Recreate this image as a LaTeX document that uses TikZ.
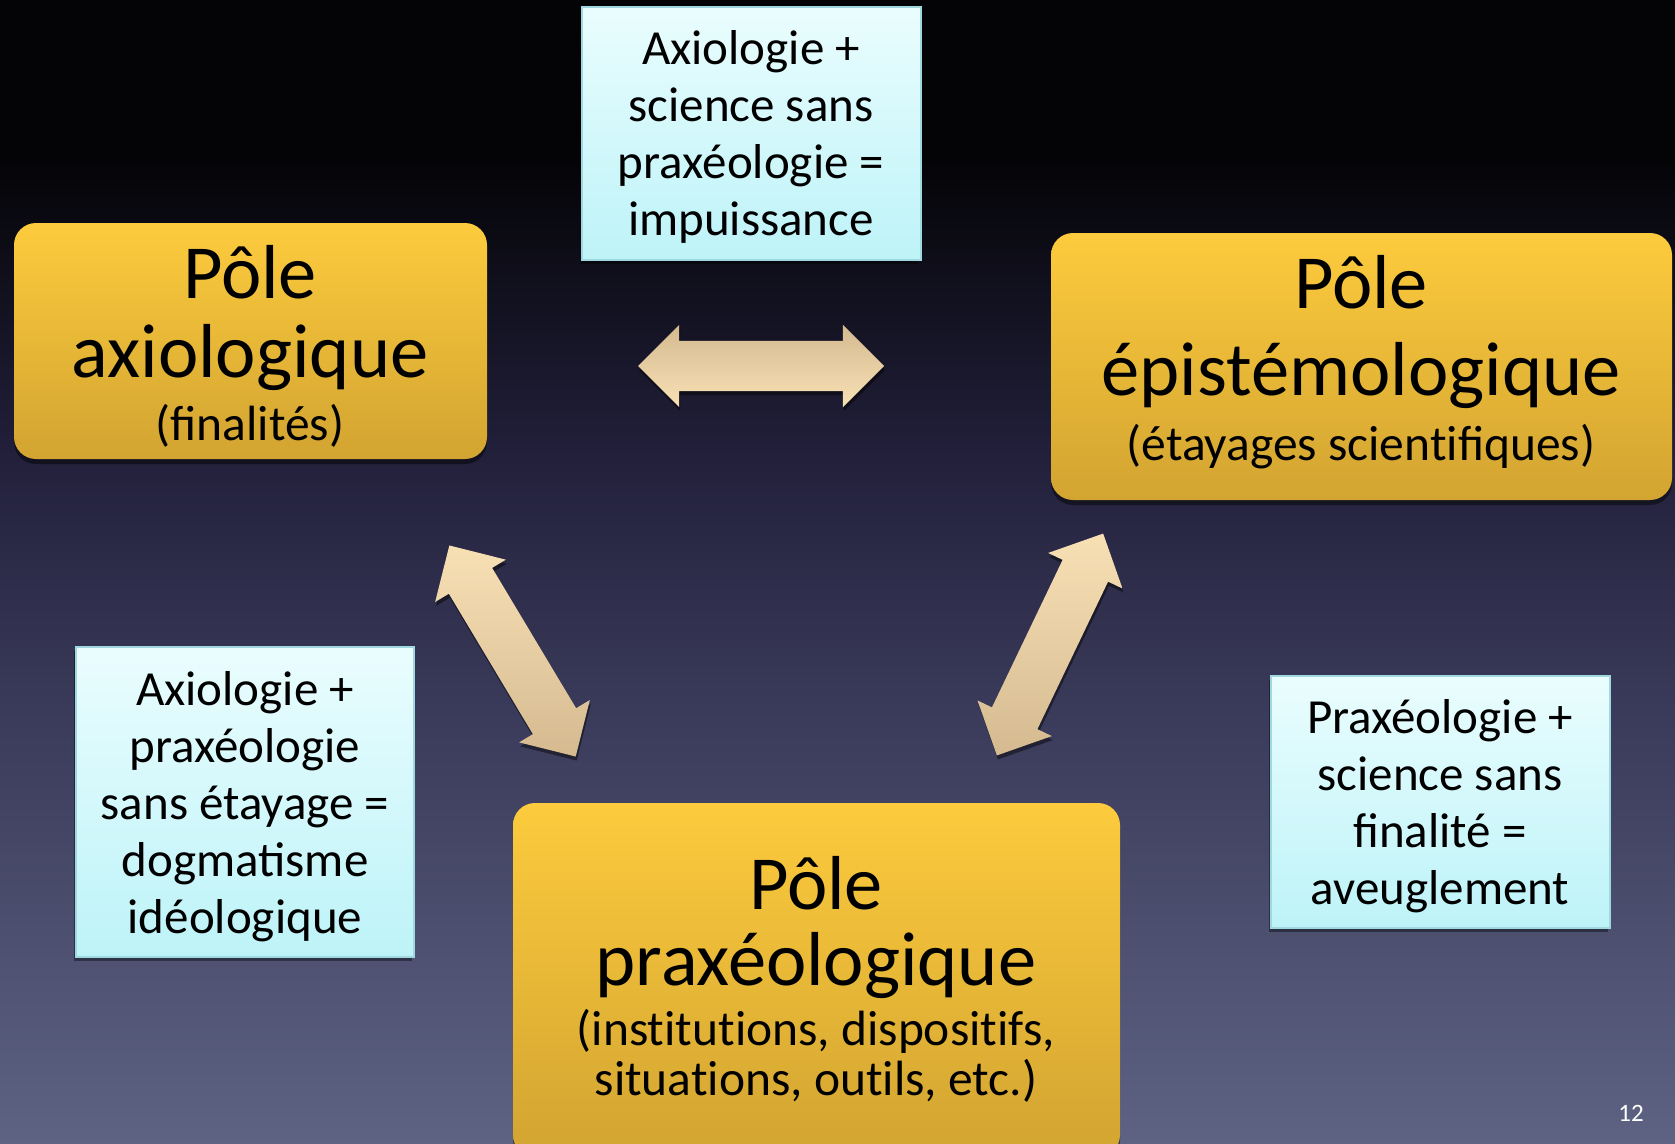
\documentclass[tikz,border=0pt]{standalone}
\usepackage{fontspec}
\setmainfont{Carlito}
\usetikzlibrary{shapes.arrows,shadows}
\definecolor{ytop}{HTML}{FDCB3D}
\definecolor{ybot}{HTML}{D2A431}
\definecolor{ctop}{HTML}{EAFDFE}
\definecolor{cbot}{HTML}{BDF3F8}
\definecolor{cedge}{HTML}{9FD8DF}
\definecolor{adark}{HTML}{D5BA90}
\definecolor{alight}{HTML}{F8E0B5}
\definecolor{bgA}{HTML}{040407}
\definecolor{bgB}{HTML}{22203B}
\definecolor{bgC}{HTML}{3A3A5A}
\definecolor{bgD}{HTML}{5E6383}
\newcommand{\nolig}{\kern0pt }
\pgfdeclareverticalshading{bgshade}{100bp}{color(0bp)=(bgD); color(25bp)=(bgD); color(44bp)=(bgC); color(55bp)=(bgB); color(68bp)=(bgA); color(75bp)=(bgA); color(100bp)=(bgA)}
\tikzset{
  ybox/.style={rounded corners=22pt, top color=ytop, bottom color=ybot, draw=none, inner sep=0pt,
    drop shadow={shadow xshift=0pt, shadow yshift=-5pt, opacity=0.45, fill=black}},
  cbox/.style={top color=ctop, bottom color=cbot, draw=cedge, line width=1.6pt, inner sep=0pt,
    drop shadow={shadow xshift=-2pt, shadow yshift=-4pt, opacity=0.4, fill=black}},
  bigtxt/.style={font=\fontsize{76.5}{80}\selectfont, inner sep=0pt, anchor=base, text=black},
  smalltxt/.style={font=\fontsize{49.5}{52}\selectfont, inner sep=0pt, anchor=base, text=black},
  ctxt/.style={font=\fontsize{49}{52}\selectfont, inner sep=0pt, anchor=base, text=black},
  dblarrow/.style={double arrow, double arrow head extend=16pt, minimum height=246pt, minimum width=82pt,
    inner sep=0pt, draw=none,
    drop shadow={shadow xshift=1pt, shadow yshift=-4pt, opacity=0.45, fill=black}}
}
\begin{document}
\begin{tikzpicture}[x=1pt,y=-1pt]
\shade[shading=bgshade] (0,0) rectangle (1675,1143);
\useasboundingbox (0,0) rectangle (1675,1143);

% yellow poles
\node[ybox, minimum width=473pt, minimum height=236pt] (axio) at (250.5,341) {};
\node[ybox, minimum width=621pt, minimum height=267pt] (epis) at (1361.5,366.5) {};
\node[ybox, minimum width=607pt, minimum height=354pt] (prax) at (816.5,980) {};

% cyan boxes
\node[cbox, minimum width=339pt, minimum height=253pt] (cTop) at (751.5,133.5) {};
\node[cbox, minimum width=338pt, minimum height=310pt] (cLeft) at (245,802) {};
\node[cbox, minimum width=339pt, minimum height=252pt] (cRight) at (1440.5,802) {};

% arrows
\node[dblarrow, top color=adark, bottom color=alight] (arrAE) at (761,366) {\rule{0pt}{50pt}};
\node[dblarrow, rotate=-59.1, top color=alight, bottom color=adark] (arrAP) at (512.5,651) {\rule{0pt}{50pt}};
\node[dblarrow, rotate=64.4, top color=alight, bottom color=adark] (arrEP) at (1050,644.5) {\rule{0pt}{50pt}};

% pole texts
\node[bigtxt] (ax1) at (250,298) {Pôle};
\node[bigtxt] (ax2) at (250,377) {axiologique};
\node[smalltxt] (ax3) at (250,440) {(finalités)};

\node[bigtxt] (ep1) at (1361,308) {Pôle};
\node[bigtxt] (ep2) at (1361,395) {épistémologique};
\node[smalltxt] (ep3) at (1361,460) {(étayages scient\nolig ifiques)};

\node[bigtxt] (pr1) at (816,909) {Pôle};
\node[bigtxt] (pr2) at (816,985) {praxéologique};
\node[smalltxt] (pr3) at (816,1045) {(inst\nolig itut\nolig ions, disposit\nolig ifs,};
\node[smalltxt] (pr4) at (816,1095) {situat\nolig ions, out\nolig ils, etc.)};

% cyan texts
\node[ctxt] (t1) at (751,64) {Axiologie +};
\node[ctxt] (t2) at (751,121) {science sans};
\node[ctxt] (t3) at (751,178) {praxéologie =};
\node[ctxt] (t4) at (751,235) {impuissance};

\node[ctxt] (l1) at (245,705) {Axiologie +};
\node[ctxt] (l2) at (245,762) {praxéologie};
\node[ctxt] (l3) at (245,819) {sans étayage =};
\node[ctxt] (l4) at (245,876) {dogmatisme};
\node[ctxt] (l5) at (245,933) {idéologique};

\node[ctxt] (r1) at (1440,733) {Praxéologie +};
\node[ctxt] (r2) at (1440,790) {science sans};
\node[ctxt] (r3) at (1440,847) {finalité =};
\node[ctxt] (r4) at (1440,904) {aveuglement};

\node[font=\fontsize{25}{27}\selectfont, text=white, inner sep=0pt] (pg) at (1631,1113) {12};
\end{tikzpicture}
\end{document}
